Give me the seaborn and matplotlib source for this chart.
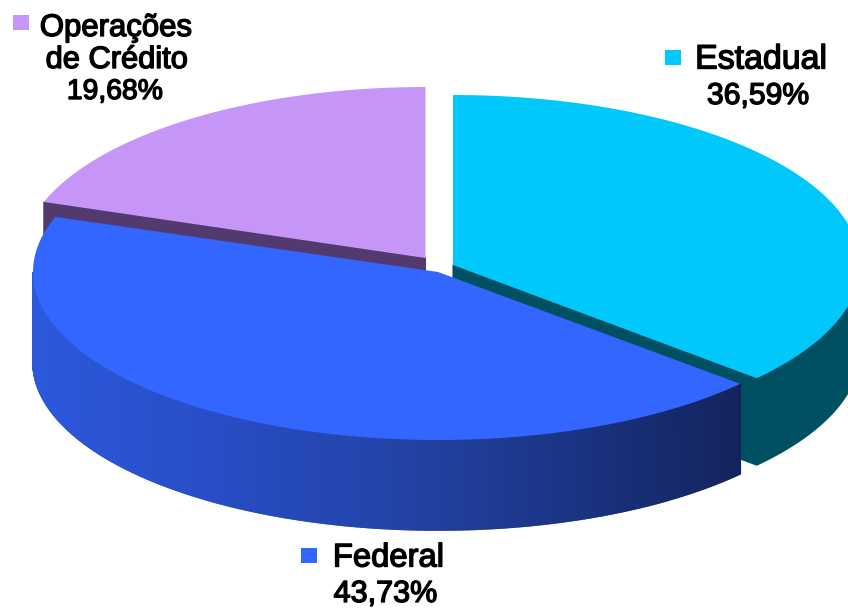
import numpy as np
import seaborn as sns
import matplotlib.pyplot as plt
import matplotlib.patheffects as pe
from matplotlib.patches import Rectangle

categories = ['Estadual', 'Federal', 'Operações\nde Crédito']
shares = [36.59, 43.73, 19.68]
share_labels = ['36,59%', '43,73%', '19,68%']

sns.set_theme(style='white')
plt.rcParams['font.family'] = ['Liberation Sans', 'DejaVu Sans']

top_colors = ['#00C8FA', '#3366FF', '#C596F8']
side_colors = ['#005064', '#14235C', '#533A6E']
federal_side = sns.blend_palette(['#2D58DC', '#284DC6', '#2344A8', '#1B3484', '#14235C'], 256)

# center x, center y, radius x, radius y
wedge_geo = {
    0: (453, 265, 407, 170),
    1: (438, 272, 405, 168),
    2: (425.5, 258, 404, 171),
}
depth = [87, 90, 90]
# purple at the back, blue in front
layer = {2: 0, 0: 1, 1: 2}

fig, ax = plt.subplots(figsize=(8.48, 6.09), dpi=100)
fig.subplots_adjust(0, 0, 1, 1)
ax.set_xlim(0, 848)
ax.set_ylim(609, 0)
ax.axis('off')


def rim(i, t0, t1, n=300):
    cx, cy, rx, ry = wedge_geo[i]
    t = np.radians(np.linspace(t0, t1, n))
    return cx + rx * np.sin(t), cy - ry * np.cos(t)


def draw_wedge(i, t0, t1):
    cx, cy, rx, ry = wedge_geo[i]
    d = depth[i]
    x, y = rim(i, t0, t1)
    z = layer[i] * 3 + 1

    # side of the slice, only what faces the viewer
    if i == 1:
        t_side = np.linspace(t0, 270, 400)
        for a, b in zip(t_side[:-1], t_side[1:]):
            xs, ys = rim(i, a, b, 2)
            pos = (xs.mean() - (cx - rx)) / (2 * rx * 0.873)
            c = federal_side[min(int(pos * 255), 255)]
            ax.fill([xs[0], xs[1], xs[1], xs[0]], [ys[0], ys[1], ys[1] + d, ys[0] + d],
                    color=c, lw=1.2, zorder=z)
    else:
        lo, hi = max(t0, 90), min(t1, 270)
        if hi > lo:
            xs, ys = rim(i, lo, hi)
            ax.fill(np.r_[xs, xs[::-1]], np.r_[ys, ys[::-1] + d], color=side_colors[i],
                    lw=0.8, zorder=z)
        # cut face, the one at 12 o'clock faces away
        for t in (t0, t1):
            if t % 360 == 0:
                continue
            xs, ys = rim(i, t, t, 1)
            ax.fill([cx, xs[0], xs[0], cx], [cy, ys[0], ys[0] + d, cy + d],
                    color=side_colors[i], lw=0.8, zorder=z)

    ax.fill(np.r_[cx, x], np.r_[cy, y], color=top_colors[i], lw=0, zorder=z + 1)


bounds = np.r_[0, np.cumsum(shares)] * 3.6
bounds[-1] = 360
for i in [2, 0, 1]:
    draw_wedge(i, bounds[i], bounds[i + 1])


def label(x, y, s, size):
    t = ax.text(x, y, s, color='black', ha='center', va='center', fontsize=size, zorder=20)
    t.set_path_effects([pe.withStroke(linewidth=1.0, foreground='black')])


ops = categories[2].split('\n')
label(761, 60, categories[0], 24.4)
label(758, 96, share_labels[0], 21.7)
label(388.5, 558, categories[1], 23.6)
label(385.5, 594, share_labels[1], 22)
label(116, 28, ops[0], 22.4)
label(117, 60, ops[1], 22.2)
label(115, 92, share_labels[2], 20.4)

for (x, y), c in zip([(665, 50), (301, 548), (13, 15)], top_colors):
    ax.add_patch(Rectangle((x, y), 16, 15, color=c, lw=0, zorder=20))

fig.savefig('out.png', dpi=100)
